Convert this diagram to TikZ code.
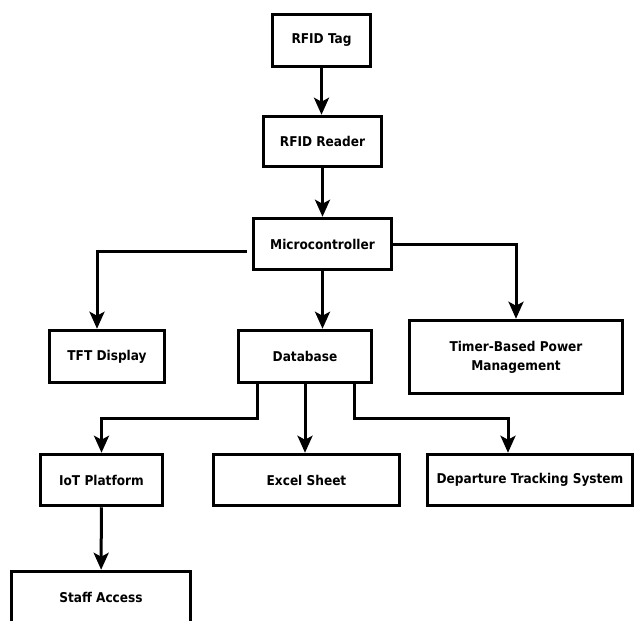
\documentclass[tikz,border=0pt]{standalone}
\usepackage{fontspec}
\setmainfont{DejaVu Sans Condensed}
\usetikzlibrary{arrows.meta}

\begin{document}
\begin{tikzpicture}[x=1pt, y=-1pt, line width=3pt,
    arr/.style={-{Stealth[length=17pt,width=15pt,inset=4pt]}},
    box/.style={draw, line width=3.5pt, fill=white, inner sep=0pt, align=center,
                font=\bfseries\fontsize{13.5}{19}\selectfont}]
\useasboundingbox (0,0) rectangle (635,621);

\node[box, minimum width=98, minimum height=52] (tag)    at (321.5,40.5) {RFID Tag};
\node[box, minimum width=118, minimum height=50] (reader) at (322.5,141.5) {RFID Reader};
\node[box, minimum width=138, minimum height=51] (mcu)    at (322.5,244) {Microcontroller};
\node[box, minimum width=115, minimum height=52] (tft)    at (107,356.5) {TFT Display};
\node[box, minimum width=133, minimum height=52] (db)     at (305,356.5) {Database};
\node[box, minimum width=213, minimum height=73] (timer)  at (516,357) {Timer-Based Power\\Management};
\node[box, minimum width=122, minimum height=51] (iot)    at (101.5,480) {IoT Platform};
\node[box, minimum width=186, minimum height=51] (excel)  at (306.5,480) {Excel Sheet};
\node[box, minimum width=205, minimum height=51] (dep)    at (530,480) {Departure Tracking System};
\node[box, minimum width=179, minimum height=51] (staff)  at (101,597) {Staff Access};

\draw[arr] (tag.south) -- (tag.south |- reader.north);
\draw[arr] (reader) -- (mcu);

\draw[arr] ([shift={(-5pt,-7pt)}]mcu.west) -| ([xshift=-10pt]tft.north);
\draw[arr] (mcu.south) -- (mcu.south |- db.north);
\draw[arr] (mcu.east) -| (timer.north);

\draw[arr] ([xshift=-48pt]db.south) -- ++(0,34) -| (iot.north);
\draw[arr] (db.south) -- (db.south |- excel.north);
\draw[arr] ([xshift=49pt]db.south) -- ++(0,34) -| ([xshift=-22pt]dep.north);

\draw[arr] (iot) -- (staff);
\end{tikzpicture}
\end{document}
